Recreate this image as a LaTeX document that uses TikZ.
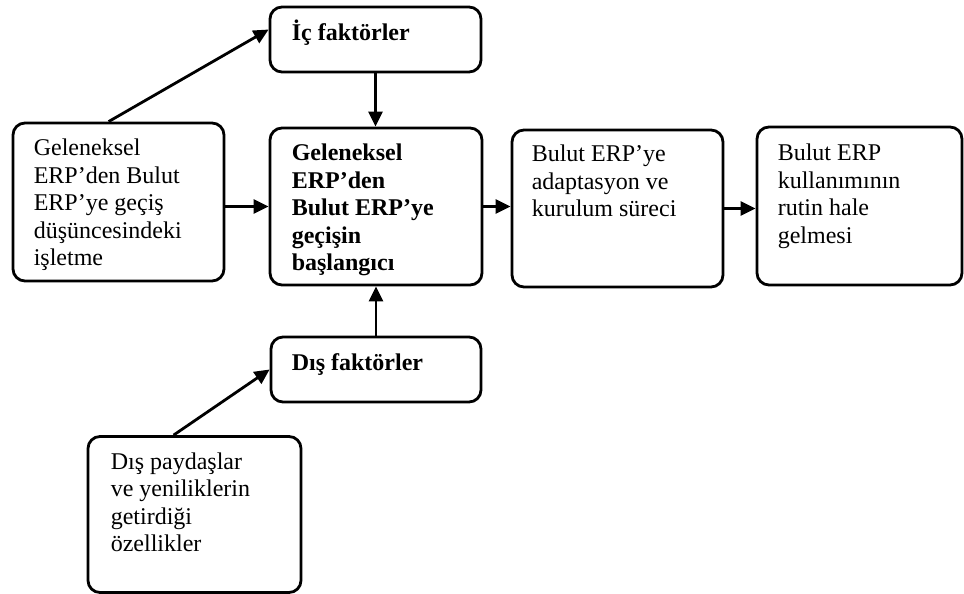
\documentclass[tikz,border=0pt]{standalone}
\usepackage{fontspec}
\setmainfont{Liberation Serif}
\usetikzlibrary{arrows.meta,calc}
\begin{document}
\begin{tikzpicture}[x=1pt,y=-1pt,
  box/.style={draw,line width=2.8pt,rounded corners=12pt,inner sep=0pt},
  txt/.style={anchor=north west,inner sep=0pt,align=left,font=\fontsize{24}{27.5}\selectfont},
  btxt/.style={txt,font=\fontsize{24}{27.5}\selectfont\bfseries},
  arr/.style={line width=2.8pt,-{Triangle[length=15pt,width=14pt]}}]
\useasboundingbox (0,0) rectangle (964,594);

% boxes
\node[box,minimum width=211pt,minimum height=65pt]  (ic)  at (375.5,39.5) {};
\node[box,minimum width=211pt,minimum height=158pt] (lb)  at (118.5,202) {};
\node[box,minimum width=212pt,minimum height=157pt] (cb)  at (376,206.5) {};
\node[box,minimum width=211pt,minimum height=157pt] (ad)  at (617.5,208.5) {};
\node[box,minimum width=205pt,minimum height=158pt] (rt)  at (859.5,206) {};
\node[box,minimum width=210pt,minimum height=65pt]  (dis) at (376,369.5) {};
\node[box,minimum width=213pt,minimum height=156pt] (bl)  at (194.5,514.5) {};

% texts
\node[btxt,anchor=base west] (ict) at ($(ic.north west)+(23,35)$) {İç faktörler};
\node[btxt,anchor=base west] (dist) at ($(dis.north west)+(22,35)$) {Dış faktörler};
\node[txt] (lbt) at ($(lb.north west)+(22,17.5)$)
  {Geleneksel\\ERP’den Bulut\\ERP’ye geçiş\\düşüncesindeki\\işletme};
\node[btxt] (cbt) at ($(cb.north west)+(23,17.5)$)
  {Geleneksel\\ERP’den\\Bulut ERP’ye\\geçişin\\başlangıcı};
\node[txt] (adt) at ($(ad.north west)+(21,16.5)$)
  {Bulut ERP’ye\\adaptasyon ve\\kurulum süreci};
\node[txt] (rtt) at ($(rt.north west)+(22,18.5)$)
  {Bulut ERP\\kullanımının\\rutin hale\\gelmesi};
\node[txt] (blt) at ($(bl.north west)+(24,17.5)$)
  {Dış paydaşlar\\ve yeniliklerin\\getirdiği\\özellikler};

% connectors
\draw[arr] ($(lb.north west)+(97,0)$) -- ($(ic.west)+(0,-10)$);
\draw[arr] (ic.south) -- (ic.south |- cb.north);
\draw[arr] (lb.east |- cb.west) -- (cb.west);
\draw[arr] (cb.east) -- (cb.east -| ad.west);
\draw[arr] (ad.east) -- (ad.east -| rt.west);
\draw[arr] (dis.north) -- (dis.north |- cb.south);
\draw[arr] ($(bl.north west)+(87,0)$) -- (dis.west);
\end{tikzpicture}
\end{document}
